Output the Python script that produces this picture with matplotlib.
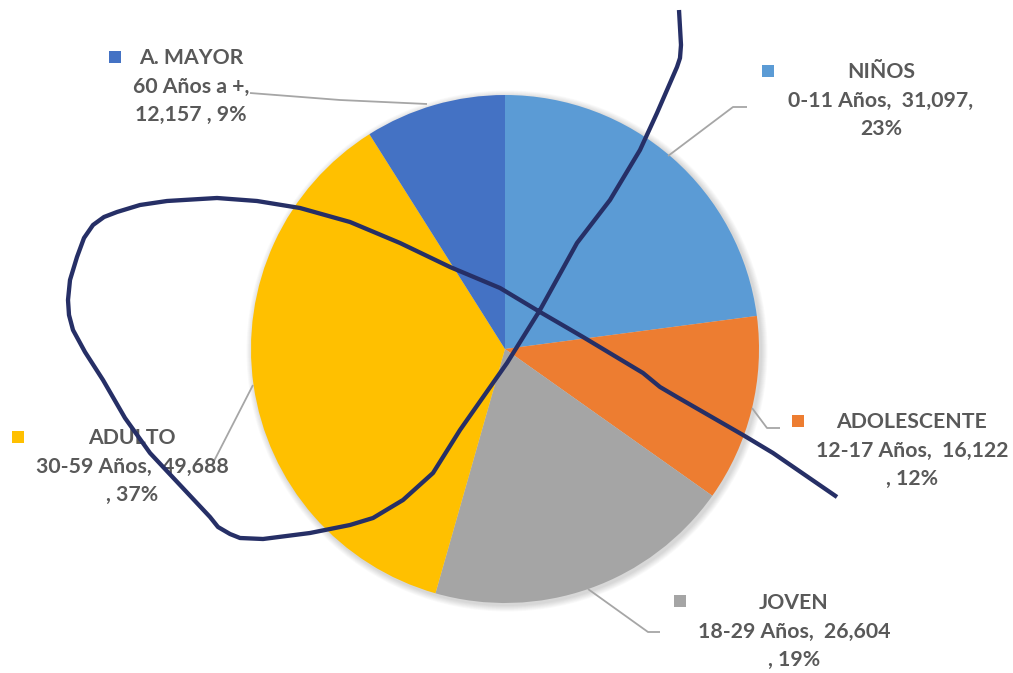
import matplotlib
matplotlib.use("Agg")
import matplotlib.pyplot as plt
from matplotlib.patches import Circle, Rectangle

# ---- data ----
categories = ["NIÑOS", "ADOLESCENTE", "JOVEN", "ADULTO", "A. MAYOR"]
age_ranges = ["0-11 Años", "12-17 Años", "18-29 Años", "30-59 Años", "60 Años a +"]
values = [31097, 16122, 26604, 49688, 12157]
percents = ["23%", "12%", "19%", "37%", "9%"]
colors = ["#5B9BD5", "#ED7D31", "#A5A5A5", "#FFC000", "#4472C4"]

label_lines = [
    ["NIÑOS", "0-11 Años,  31,097,", "23%"],
    ["ADOLESCENTE", "12-17 Años,  16,122", ", 12%"],
    ["JOVEN", "18-29 Años,  26,604", ", 19%"],
    ["ADULTO", "30-59 Años,  49,688", ", 37%"],
    ["A. MAYOR", "60 Años a +,", "12,157 , 9%"],
]

W, H = 1013, 673
def Y(y):
    return H - y

fig = plt.figure(figsize=(W / 100, H / 100), dpi=100)
ax = fig.add_axes([0, 0, 1, 1])

cx, cy, r = 505, 349, 254

# soft shadow
for i in range(8):
    ax.add_patch(Circle((cx + 2, Y(cy) - 2), r + 1 + i * 0.8, color="#000000",
                        alpha=0.018, lw=0, zorder=0))

ax.pie(values, colors=colors, startangle=90, counterclock=False,
       center=(cx, Y(cy)), radius=r, wedgeprops=dict(linewidth=0))

ax.set_xlim(0, W)
ax.set_ylim(0, H)
ax.set_aspect("equal")
ax.axis("off")

# labels: (center x, first-line y, marker x, marker y)
label_pos = [
    (881, 72, 768, 71),
    (912, 422, 798, 421),
    (794, 603, 680, 601),
    (132, 438, 18, 437),
    (191, 58, 115, 57),
]
text_color = "#595959"
fs = 15.3
line_h = 28.5
for lines, (tx, ty, mx, my), c in zip(label_lines, label_pos, colors):
    for k, ln in enumerate(lines):
        ax.text(tx, Y(ty + k * line_h), ln, ha="center", va="center",
                fontsize=fs, fontweight="bold", color=text_color,
                family=["Lato", "DejaVu Sans"], zorder=5)
    ax.add_patch(Rectangle((mx - 6, Y(my) - 6), 12, 12, color=c, lw=0, zorder=5))

# leader lines
leaders = [
    [(747, 107), (733, 107), (668, 156)],
    [(780, 428), (767, 428), (752, 408)],
    [(660, 632), (648, 632), (588, 589)],
    [(213, 463), (253, 385)],
    [(250, 93), (340, 100), (427, 104)],
]
for pts in leaders:
    ax.plot([p[0] for p in pts], [Y(p[1]) for p in pts], color="#A6A6A6",
            lw=1.3, zorder=4, solid_capstyle="butt")

# hand-drawn annotation stroke
stroke_x = [679, 681, 680, 677, 657, 640, 610, 577, 540, 507, 460, 433, 403, 373, 350,
            310, 263, 240, 230, 218, 210, 180, 150, 125, 103, 85, 73, 69, 68, 70, 77,
            84, 93, 104, 117, 140, 167, 217, 257, 300,
            350, 400, 450, 500, 540, 583, 643, 660, 677, 743, 773, 837]
stroke_y = [10, 45, 58, 67, 113, 150, 200, 243, 310, 363, 430, 473, 500, 518, 525,
            533, 539, 538, 534, 527, 517, 485, 453, 418, 380, 352, 330, 315, 300, 280, 257,
            238, 225, 217, 212, 205, 201, 198, 201, 208,
            222, 243, 267, 288, 312, 337, 373, 387, 397, 435, 453, 497]
ax.plot(stroke_x, [Y(v) for v in stroke_y], color="#262F66", lw=3.1,
        solid_joinstyle="round", solid_capstyle="butt", zorder=6)

fig.savefig("out.png", dpi=100, facecolor="white")
